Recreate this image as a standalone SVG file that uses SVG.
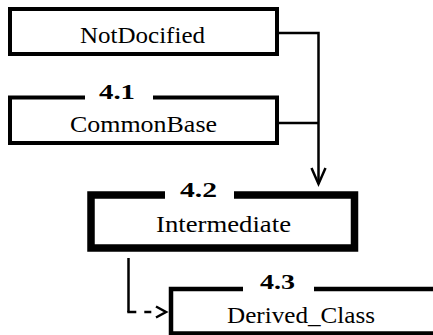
<svg xmlns="http://www.w3.org/2000/svg" width="433" height="335" viewBox="0 0 433 335">
<style>
.box{fill:#fff;stroke:#000}
.gap{fill:#fff;stroke:none}
.name{font-size:23px;fill:#000;text-anchor:middle}
.num{font-size:20px;font-weight:bold;fill:#000;text-anchor:middle}
.conn{fill:none;stroke:#000;stroke-width:2.5}
</style>
<defs>
<marker id="openV" markerUnits="userSpaceOnUse" viewBox="-19 -10 21 20" refX="0" refY="0" markerWidth="21" markerHeight="20" orient="auto" overflow="visible">
<path d="M-16,-7 L0,0 L-16,7" fill="none" stroke="#000" stroke-width="2.5"/>
</marker>
<marker id="openS" markerUnits="userSpaceOnUse" viewBox="-13 -8 15 16" refX="0" refY="0" markerWidth="15" markerHeight="16" orient="auto" overflow="visible">
<path d="M-10,-5.5 L0,0 L-10,5.5" fill="none" stroke="#000" stroke-width="2.5"/>
</marker>
</defs>
<rect width="433" height="335" fill="#fff"/>
<g id="connectors">
<path class="conn" d="M279,33 H318.5 V184" marker-end="url(#openV)"/>
<path class="conn" d="M279,123 H318.5"/>
<path class="conn" d="M128.5,258 V312"/>
<path class="conn" d="M127.3,312 H166" stroke-dasharray="9 8 7 20" marker-end="url(#openS)"/>
</g>
<g font-family="Liberation Serif, DejaVu Serif, serif">
<g id="NotDocified">
<rect class="box" x="10" y="9" width="267" height="45" stroke-width="4"/>
<text class="name" x="142.5" y="43" textLength="125" lengthAdjust="spacingAndGlyphs">NotDocified</text>
</g>
<g id="CommonBase">
<rect class="box" x="10" y="97.5" width="267" height="45.5" stroke-width="4"/>
<rect class="gap" x="85" y="94" width="68" height="7"/>
<text class="num" x="117" y="98.5" textLength="36" lengthAdjust="spacingAndGlyphs">4.1</text>
<text class="name" x="143.5" y="132" textLength="147" lengthAdjust="spacingAndGlyphs">CommonBase</text>
</g>
<g id="Intermediate">
<rect class="box" x="91" y="195" width="263.5" height="53" stroke-width="7.5"/>
<rect class="gap" x="165" y="190" width="69" height="10"/>
<text class="num" x="198.5" y="196.7" textLength="37" lengthAdjust="spacingAndGlyphs">4.2</text>
<text class="name" x="223.5" y="231.7" textLength="135" lengthAdjust="spacingAndGlyphs">Intermediate</text>
</g>
<g id="Derived_Class">
<rect class="box" x="171" y="289" width="265" height="44.5" stroke-width="4.5"/>
<rect class="gap" x="243" y="285" width="71" height="8"/>
<text class="num" x="277.5" y="288.5" textLength="35" lengthAdjust="spacingAndGlyphs">4.3</text>
<text class="name" x="301" y="323.3" textLength="148" lengthAdjust="spacingAndGlyphs">Derived_Class</text>
</g>
</g>
</svg>
